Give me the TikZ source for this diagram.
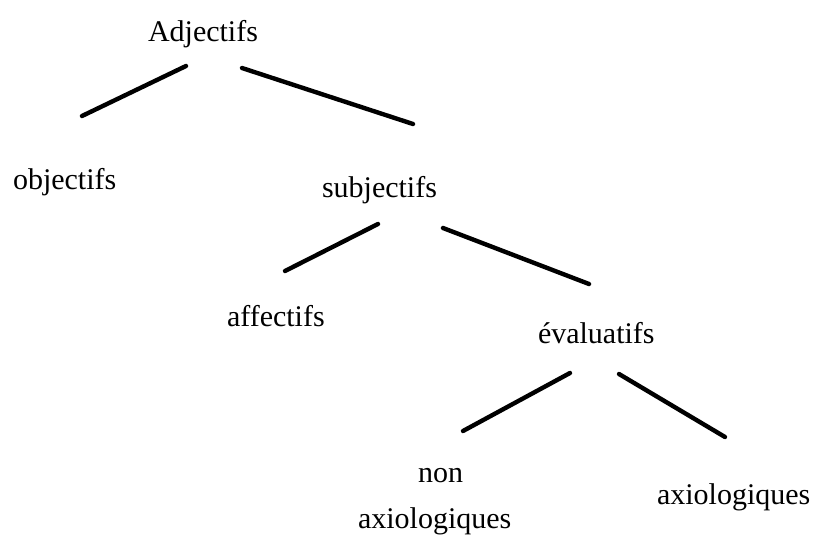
\documentclass[tikz,border=0pt]{standalone}
\usepackage{fontspec}
\setmainfont{Liberation Serif}
\begin{document}
\begin{tikzpicture}[x=1pt,y=-1pt,
  lbl/.style={anchor=base west,inner sep=0pt,outer sep=0pt,font=\fontsize{30}{36}\selectfont},
  branch/.style={line width=4.4pt,line cap=round}]
\useasboundingbox (0,0) rectangle (815,536);
\node[lbl] (adj) at (148,41.5) {Adjectifs};
\node[lbl] (obj) at (13,189) {objectifs};
\node[lbl] (sub) at (322,197) {subjectifs};
\node[lbl] (aff) at (227,326) {affectifs};
\node[lbl] (eva) at (538,343) {évaluatifs};
\node[lbl] (non) at (418,482) {non};
\node[lbl] (nax) at (358,528) {axiologiques};
\node[lbl] (axi) at (657,504) {axiologiques};
\coordinate (a1) at (186,66); \coordinate (a2) at (82,116);
\coordinate (b1) at (242,68); \coordinate (b2) at (413,124);
\coordinate (c1) at (378,224); \coordinate (c2) at (285,271);
\coordinate (d1) at (443,228); \coordinate (d2) at (589,284);
\coordinate (e1) at (570,373); \coordinate (e2) at (463,431);
\coordinate (f1) at (619,374); \coordinate (f2) at (725,437);
\draw[branch] (a1) -- (a2);
\draw[branch] (b1) -- (b2);
\draw[branch] (c1) -- (c2);
\draw[branch] (d1) -- (d2);
\draw[branch] (e1) -- (e2);
\draw[branch] (f1) -- (f2);
\end{tikzpicture}
\end{document}
